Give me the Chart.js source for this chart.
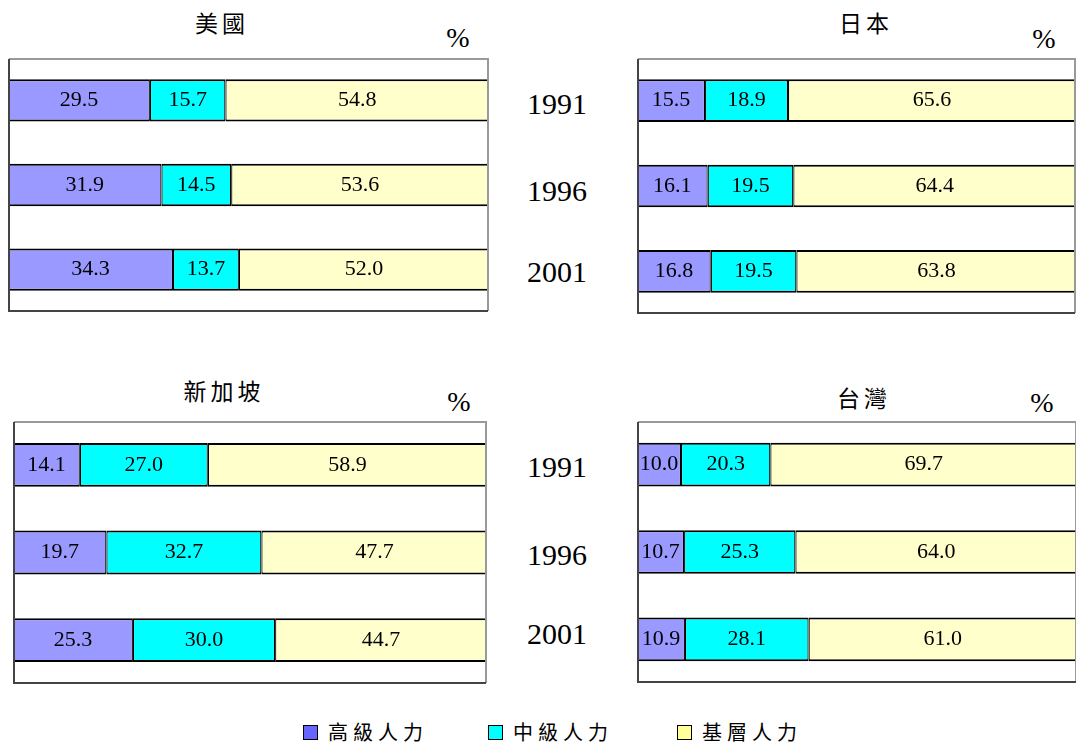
<!DOCTYPE html>
<html>
<head>
<meta charset="utf-8">
<script src="https://cdn.jsdelivr.net/npm/chart.js@4.4.1/dist/chart.umd.min.js"></script>
<style>
  html, body { margin:0; padding:0; background:#fff; width:1076px; height:747px; overflow:hidden; }
  .box { position:absolute; }
  .txt { position:absolute; transform:translate(-50%,-50%); line-height:1; white-space:nowrap; color:#000; }
  .title { font-family:"Noto Sans CJK TC","Noto Sans CJK SC",sans-serif; font-size:23px; letter-spacing:4px; }
  .pct { font-family:"Liberation Serif","DejaVu Serif",serif; font-size:28px; }
  .year { font-family:"Liberation Serif","DejaVu Serif",serif; font-size:30px; }
  .leg { position:absolute; display:flex; align-items:center; font-family:"Noto Sans CJK TC","Noto Sans CJK SC",sans-serif; font-size:20px; letter-spacing:5px; line-height:1; }
  .sw { width:13px; height:13px; border:1px solid #000; margin-right:10px; }
</style>
</head>
<body>
<script>
// ---- data ----
const categories = ['1991', '1996', '2001'];
const seriesNames = ['高級人力', '中級人力', '基層人力'];
const panelNames = ['美國', '日本', '新加坡', '台灣'];

const usHigh = [29.5, 31.9, 34.3];
const usMid  = [15.7, 14.5, 13.7];
const usBase = [54.8, 53.6, 52.0];

const jpHigh = [15.5, 16.1, 16.8];
const jpMid  = [18.9, 19.5, 19.5];
const jpBase = [65.6, 64.4, 63.8];

const sgHigh = [14.1, 19.7, 25.3];
const sgMid  = [27.0, 32.7, 30.0];
const sgBase = [58.9, 47.7, 44.7];

const twHigh = [10.0, 10.7, 10.9];
const twMid  = [20.3, 25.3, 28.1];
const twBase = [69.7, 64.0, 61.0];

const unitLabel = '%';

// ---- styles / layout ----
const barColors = ['#9999FF', '#00FFFF', '#FFFFCC'];
const legendColors = ['#6666FF', '#00FFFF', '#FFFF99'];

const panels = [
  { name: panelNames[0], data: [usHigh, usMid, usBase], box: [8, 58, 481, 254],  title: [222, 22],  pct: [458, 38] },
  { name: panelNames[1], data: [jpHigh, jpMid, jpBase], box: [637, 58, 439, 256], title: [866, 22],  pct: [1044, 39] },
  { name: panelNames[2], data: [sgHigh, sgMid, sgBase], box: [13, 421, 474, 263], title: [224, 390], pct: [459, 402] },
  { name: panelNames[3], data: [twHigh, twMid, twBase], box: [637, 421, 440, 262], title: [864, 397], pct: [1042, 403] }
];

const yearPos = [[557, 104], [557, 191], [557, 272], [557, 467], [557, 555], [557, 634]];

function addText(cls, text, x, y) {
  const d = document.createElement('div');
  d.className = 'txt ' + cls;
  d.textContent = text;
  d.style.left = x + 'px';
  d.style.top = y + 'px';
  document.body.appendChild(d);
}

const frame = {
  id: 'frame',
  afterDraw(chart) {
    const { ctx, chartArea: a } = chart;
    ctx.save();
    ctx.lineWidth = 2;
    ctx.strokeStyle = '#999';
    ctx.beginPath();
    ctx.moveTo(a.left + 1, a.top + 1); ctx.lineTo(a.right - 1, a.top + 1); ctx.lineTo(a.right - 1, a.bottom - 1);
    ctx.stroke();
    ctx.strokeStyle = '#444';
    ctx.beginPath();
    ctx.moveTo(a.left + 1, a.top + 1); ctx.lineTo(a.left + 1, a.bottom - 1); ctx.lineTo(a.right - 1, a.bottom - 1);
    ctx.stroke();
    ctx.restore();
  }
};

const valueLabels = {
  id: 'valueLabels',
  afterDatasetsDraw(chart) {
    const ctx = chart.ctx;
    ctx.save();
    ctx.font = '22px "Liberation Serif", "DejaVu Serif", serif';
    ctx.fillStyle = '#000';
    ctx.textAlign = 'center';
    ctx.textBaseline = 'middle';
    chart.data.datasets.forEach((ds, i) => {
      chart.getDatasetMeta(i).data.forEach((el, j) => {
        const p = el.getCenterPoint();
        ctx.fillText(Number(ds.data[j]).toFixed(1), p.x, p.y);
      });
    });
    ctx.restore();
  }
};

panels.forEach(p => {
  const div = document.createElement('div');
  div.className = 'box';
  div.style.left = p.box[0] + 'px';
  div.style.top = p.box[1] + 'px';
  div.style.width = p.box[2] + 'px';
  div.style.height = p.box[3] + 'px';
  const cv = document.createElement('canvas');
  div.appendChild(cv);
  document.body.appendChild(div);

  addText('title', p.name, p.title[0], p.title[1]);
  addText('pct', unitLabel, p.pct[0], p.pct[1]);

  new Chart(cv, {
    type: 'bar',
    data: {
      labels: categories,
      datasets: p.data.map((vals, i) => ({
        label: seriesNames[i],
        data: vals,
        backgroundColor: barColors[i],
        borderColor: '#000',
        borderWidth: { top: 2, bottom: 2, left: 1.2, right: 1.2 },
        borderSkipped: false,
        inflateAmount: 0,
        barPercentage: 0.5,
        categoryPercentage: 1.0
      }))
    },
    options: {
      indexAxis: 'y',
      responsive: true,
      maintainAspectRatio: false,
      animation: false,
      layout: { padding: 0 },
      scales: {
        x: { stacked: true, min: 0, max: 100, display: false },
        y: { stacked: true, display: false }
      },
      plugins: { legend: { display: false }, tooltip: { enabled: false }, title: { display: false } }
    },
    plugins: [frame, valueLabels]
  });
});

categories.concat(categories).forEach((c, i) => addText('year', c, yearPos[i][0], yearPos[i][1]));

// legend
const legX = [303, 488, 677];
seriesNames.forEach((n, i) => {
  const d = document.createElement('div');
  d.className = 'leg';
  d.style.left = legX[i] + 'px';
  d.style.top = '722px';
  const sw = document.createElement('div');
  sw.className = 'sw';
  sw.style.background = legendColors[i];
  const t = document.createElement('span');
  t.textContent = n;
  d.appendChild(sw);
  d.appendChild(t);
  document.body.appendChild(d);
});
</script>
</body>
</html>
